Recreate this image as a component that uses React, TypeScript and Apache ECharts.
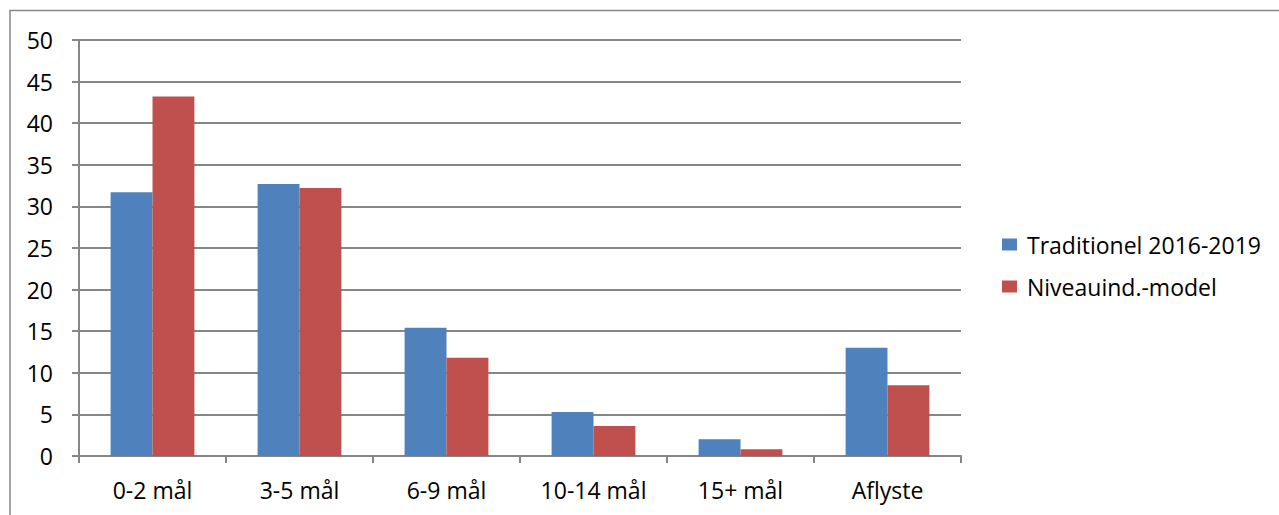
import React, { useEffect, useRef } from "react";
import * as echarts from "echarts";

const categories = ["0-2 mål", "3-5 mål", "6-9 mål", "10-14 mål", "15+ mål", "Aflyste"];
const seriesNames = ["Traditionel 2016-2019", "Niveauind.-model"];
const traditionel = [31.7, 32.7, 15.4, 5.3, 2.0, 13.0];
const niveauind = [43.2, 32.2, 11.8, 3.6, 0.8, 8.5];
const colors = ["#4F81BD", "#C0504D"];

const FONT = "'Open Sans', 'Noto Sans', sans-serif";
const FS = 23;
const LINE = "#868686";

export default function App() {
  const ref = useRef<HTMLDivElement>(null);
  useEffect(() => {
    if (!ref.current) return;
    const chart = echarts.init(ref.current, null, { renderer: "svg" });
    chart.setOption({
      animation: false,
      backgroundColor: "#ffffff",
      textStyle: { fontFamily: FONT },
      grid: { left: 79, right: 318, top: 40, bottom: 59, containLabel: false },
      graphic: [
        {
          type: "rect",
          shape: { x: 10, y: 10.5, width: 1400, height: 700 },
          style: { fill: "none", stroke: LINE, lineWidth: 1.5 },
          silent: true,
          z: -1,
        },
      ],
      legend: {
        orient: "vertical",
        left: 1002,
        top: 233,
        padding: 0,
        itemWidth: 15,
        itemHeight: 12,
        itemGap: 19,
        icon: "rect",
        textStyle: { fontSize: FS, color: "#000", fontFamily: FONT, padding: [0, 0, 0, 5] },
        data: seriesNames,
      },
      xAxis: {
        type: "category",
        data: categories,
        axisLine: { lineStyle: { color: LINE, width: 2 } },
        axisTick: { show: true, length: 7, lineStyle: { color: LINE, width: 2 } },
        axisLabel: { color: "#000", fontSize: FS, margin: 22, fontFamily: FONT },
      },
      yAxis: {
        type: "value",
        min: 0,
        max: 50,
        interval: 5,
        axisLine: { show: true, lineStyle: { color: LINE, width: 2 } },
        axisTick: { show: true, length: 7, lineStyle: { color: LINE, width: 2 } },
        axisLabel: { color: "#000", fontSize: FS, margin: 26, fontFamily: FONT },
        splitLine: { lineStyle: { color: LINE, width: 2 } },
      },
      series: [
        {
          name: seriesNames[0],
          type: "bar",
          data: traditionel,
          itemStyle: { color: colors[0] },
          barGap: "0%",
          barCategoryGap: "43%",
        },
        {
          name: seriesNames[1],
          type: "bar",
          data: niveauind,
          itemStyle: { color: colors[1] },
          barGap: "0%",
          barCategoryGap: "43%",
        },
      ],
    });
    return () => chart.dispose();
  }, []);
  return (
    <div
      ref={ref}
      style={{ position: "fixed", left: 0, top: 0, width: 1279, height: 515 }}
    />
  );
}
